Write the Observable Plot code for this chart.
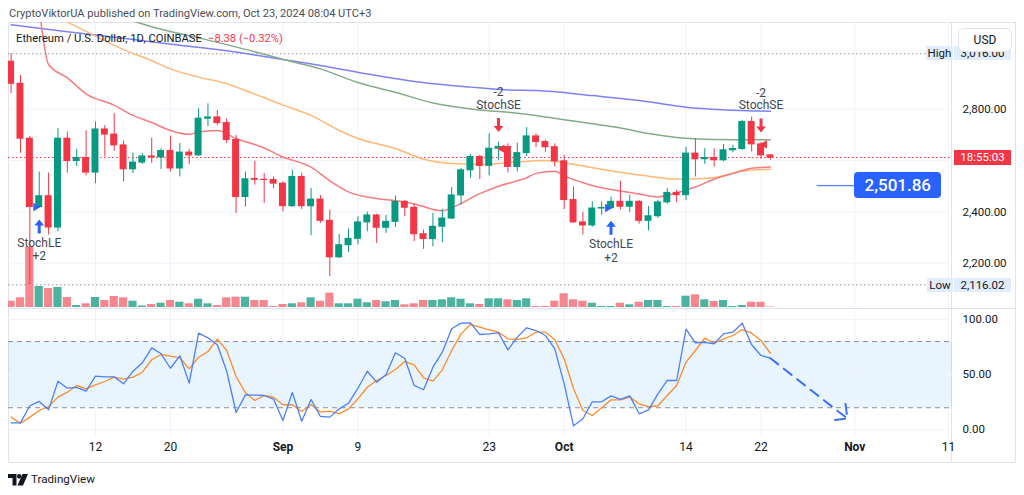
<!DOCTYPE html>
<html>
<head>
<meta charset="utf-8">
<script src="https://cdn.jsdelivr.net/npm/d3@7"></script>
<script src="https://cdn.jsdelivr.net/npm/@observablehq/plot@0.6"></script>
<style>
  html,body{margin:0;padding:0;background:#fff;}
  body{width:1024px;height:495px;position:relative;overflow:hidden;font-family:Roboto,"Liberation Sans",Arial,sans-serif;color:#131722;}
  .abs{position:absolute;}
  .txt{white-space:nowrap;line-height:16px;}
  .lbl{position:absolute;font-size:11.5px;line-height:14px;text-align:center;white-space:nowrap;box-sizing:border-box;}
</style>
</head>
<body>
<div id="hdr" class="abs txt" style="left:9px;top:6px;font-size:13px;color:#4a4d57">CryptoViktorUA published on TradingView.com, Oct 23, 2024 08:04 UTC+3</div>
<div id="frame" class="abs" style="left:8px;top:22px;width:1008px;height:441px;border:1px solid #e0e3eb;box-sizing:border-box"></div>
<div class="abs" style="left:951px;top:22px;width:1px;height:440px;background:#e0e3eb"></div>
<div id="gridLayer" class="abs" style="left:0;top:22px"></div>
<div id="volLayer" class="abs" style="left:0;top:22px"></div>
<div id="priceLayer" class="abs" style="left:0;top:22px"></div>
<div id="stochLayer" class="abs" style="left:0;top:308px"></div>
<div class="abs" style="left:8px;top:308px;width:1007px;height:1px;background:#e0e3eb"></div>
<div id="legendMain" class="abs txt" style="left:16px;top:31px;font-size:12.5px;color:#131722">Ethereum / U.S. Dollar, 1D, COINBASE</div>
<div id="legendChg" class="abs txt" style="left:208px;top:31px;font-size:12.5px;color:#f23645">−8.38 (−0.32%)</div>
<div id="overlays"></div>
<svg class="abs" style="left:8px;top:474px" width="20" height="12" viewBox="0 0 20 12"><path d="M0 0h8.5v11.5h-4v-7.5H0z" fill="#131722"/><circle cx="11.2" cy="2.2" r="2.2" fill="#131722"/><path d="M14.5 0h5.5l-5 11.5h-5.5z" fill="#131722"/></svg>
<div id="foot" class="abs txt" style="left:31px;top:471px;font-size:14px;color:#131722">TradingView</div>
<script>
// ---------------- DATA ----------------
const startDate = "2024-08-03"; // first daily bar, consecutive days after it
const open = [2985,2899,2685,2419,2461,2339,2685,2598,2610,2553, 2721,2701,2659,2566,2592,2616,2612,2637,2569,2631,
  2620,2763,2768,2746,2680,2458,2528,2525,2524,2510, 2422,2536,2422,2448,2365,2223,2270,2295,2359,2386,
  2338,2361,2439,2416,2313,2294,2342,2374,2464,2562, 2614,2579,2646,2653,2575,2629,2694,2672,2652,2597,
  2446,2359,2347,2413,2415,2439,2420,2439,2365,2383, 2437,2474,2465,2627,2605,2610,2601,2640,2645,2750,
  2663,2620];
const high = [3016,2931,2694,2555,2551,2724,2711,2643,2717,2750, 2736,2782,2676,2629,2627,2687,2646,2695,2666,2643,
  2802,2821,2795,2763,2698,2555,2597,2549,2536,2517, 2562,2551,2491,2464,2407,2312,2333,2381,2399,2391,
  2387,2462,2445,2430,2329,2394,2410,2495,2569,2623, 2620,2704,2672,2665,2668,2728,2704,2680,2665,2620,
  2497,2398,2439,2439,2458,2519,2465,2445,2420,2445, 2491,2485,2652,2685,2646,2646,2662,2659,2756,2769,
  2670,2623];
const low = [2861,2628,2116.02,2415,2310,2322,2551,2577,2540,2510, 2614,2636,2517,2549,2585,2589,2565,2555,2536,2584,
  2617,2733,2736,2666,2394,2419,2504,2433,2491,2400, 2418,2409,2307,2355,2148,2218,2242,2271,2322,2277,
  2316,2339,2381,2284,2254,2264,2280,2370,2426,2530, 2526,2540,2601,2551,2555,2616,2650,2633,2575,2409,
  2355,2310,2340,2387,2410,2407,2398,2352,2326,2375, 2430,2435,2445,2536,2585,2575,2595,2630,2640,2633,
  2605,2601];
const close = [2899,2685,2419,2461,2339,2685,2598,2610,2553,2721, 2701,2659,2566,2592,2616,2612,2637,2569,2631,2620,
  2763,2768,2746,2680,2458,2527,2525,2524,2510,2422, 2536,2422,2448,2365,2223,2270,2295,2359,2386,2338,
  2361,2439,2416,2313,2294,2342,2374,2464,2562,2614, 2579,2646,2653,2575,2629,2694,2672,2652,2597,2446,
  2359,2347,2413,2415,2439,2420,2439,2365,2383,2437, 2474,2465,2627,2605,2610,2601,2640,2645,2750,2663,
  2620,2611.62];
const volumeK = [63,97,600,210,190,200,100,20,37,100, 70,110,97,63,15,30,43,70,53,37,
  83,37,20,97,103,103,70,70,10,30, 37,47,97,63,143,37,37,83,47,70,
  57,70,27,37,70,70,77,97,83,37, 30,87,87,77,70,87,10,10,63,137,
  77,63,43,10,10,43,27,53,70,70, 10,10,113,127,77,60,70,10,20,53,
  53,5];
const stochK = [6.3,6.3,21.8,25.7,18.1,44.1,37.7,38.4,35.0,48.6, 48.0,48.0,41.7,53.1,60.7,74.3,68.9,55.8,67.1,42.3,
  87.6,83.4,77.1,53.1,15.7,31.7,31.4,31.1,27.8,8.4, 33.8,7.8,27.5,12.1,11.5,19.0,24.1,37.7,53.1,43.2,
  50.1,69.8,64.6,40.2,36.3,56.8,70.4,91.6,96.7,96.9, 86.4,87.0,87.9,72.5,84.0,92.5,90.0,85.5,73.4,41.7,
  3.6,10.0,25.4,25.4,30.8,27.5,30.8,14.5,18.1,32.6, 44.7,44.7,91.2,78.9,79.2,78.0,87.0,88.5,96.7,77.1,
  67.4,64.9];
const stochD = [11.5,6.0,11.5,17.5,21.1,29.6,34.1,40.2,37.2,40.8, 43.8,47.7,45.9,47.7,52.2,63.5,68.3,66.7,65.3,55.3,
  65.8,71.0,82.2,71.9,48.3,33.5,26.6,31.1,29.6,22.7, 22.7,16.6,22.9,16.0,16.9,14.5,19.0,28.1,38.6,44.7,
  49.2,54.7,61.9,58.9,47.1,44.1,54.4,71.9,87.0,95.5, 93.0,90.7,88.5,82.5,81.9,83.4,88.5,88.5,81.6,64.3,
  37.2,17.5,13.0,19.9,27.2,27.2,29.6,23.6,21.1,21.8, 31.1,40.2,61.3,71.9,83.1,78.5,82.5,85.5,90.9,87.6,
  81.0,69.4];
const maRed = [["2024-08-06",3195],["2024-08-07",2974],["2024-08-09",2922],["2024-08-11",2860],["2024-08-14",2815],
  ["2024-08-16",2776],["2024-08-18",2748],["2024-08-20",2717],["2024-08-22",2702],["2024-08-23",2711],["2024-08-25",2717],
  ["2024-08-27",2686],["2024-08-30",2649],["2024-09-01",2614],["2024-09-04",2574],["2024-09-06",2521],["2024-09-08",2478],
  ["2024-09-11",2452],["2024-09-13",2443],["2024-09-15",2431],["2024-09-18",2404],["2024-09-19",2416],["2024-09-22",2471],
  ["2024-09-24",2500],["2024-09-27",2533],["2024-09-28",2550],["2024-09-30",2558],["2024-10-01",2540],["2024-10-04",2503],
  ["2024-10-06",2487],["2024-10-09",2470],["2024-10-11",2458],["2024-10-12",2465],["2024-10-15",2497],["2024-10-17",2527],
  ["2024-10-19",2550],["2024-10-21",2570],["2024-10-23",2575]];
const maOrange = [["2024-08-08",3156],["2024-08-09",3139],["2024-08-15",3032],["2024-08-18",2989],["2024-08-20",2957],
  ["2024-08-23",2925],["2024-08-26",2899],["2024-08-28",2873],["2024-09-01",2816],["2024-09-04",2776],["2024-09-07",2717],
  ["2024-09-09",2686],["2024-09-13",2647],["2024-09-16",2605],["2024-09-19",2588],["2024-09-22",2585],["2024-09-25",2591],
  ["2024-09-29",2600],["2024-10-01",2591],["2024-10-04",2572],["2024-10-07",2554],["2024-10-10",2539],["2024-10-13",2528],
  ["2024-10-16",2530],["2024-10-18",2541],["2024-10-20",2558],["2024-10-23",2566]];
const maGreen = [["2024-08-16",3144],["2024-08-18",3121],["2024-08-23",3078],["2024-08-29",3024],["2024-09-02",2985],
  ["2024-09-05",2957],["2024-09-09",2904],["2024-09-13",2866],["2024-09-17",2824],["2024-09-22",2797],["2024-09-25",2788],
  ["2024-09-29",2770],["2024-10-02",2754],["2024-10-04",2743],["2024-10-07",2727],["2024-10-10",2705],["2024-10-13",2690],
  ["2024-10-17",2682],["2024-10-20",2681],["2024-10-23",2681]];
const maBlue = [["2024-08-03",3129],["2024-08-09",3102],["2024-08-15",3076],["2024-08-21",3049],["2024-08-26",3028],
  ["2024-08-31",2999],["2024-09-05",2970],["2024-09-10",2937],["2024-09-15",2908],["2024-09-21",2886],["2024-09-25",2875],
  ["2024-09-28",2873],["2024-10-04",2853],["2024-10-09",2834],["2024-10-14",2808],["2024-10-20",2795],["2024-10-23",2792]];
const signals = [
  {date:"2024-08-06", side:"long",  name:"StochLE", qty:"+2"},
  {date:"2024-09-24", side:"short", name:"StochSE", qty:"-2"},
  {date:"2024-10-06", side:"long",  name:"StochLE", qty:"+2"},
  {date:"2024-10-22", side:"short", name:"StochSE", qty:"-2"}
];
const targetLine = [{from:"2024-10-28", to:"2024-11-01", price:2501.86}];
const projection = [{from:"2024-10-23", fromValue:64.9, to:"2024-10-31T05:00:00Z", toValue:10.2}];
const dayTicks = ["2024-08-12","2024-08-20","2024-09-09","2024-09-23","2024-10-14","2024-10-22","2024-11-11"];
const monthTicks = ["2024-09-01","2024-10-01","2024-11-01"];
const priceTicks = [2200, 2400, 2800];
const priceGrid = [2200, 2400, 2600, 2800];
const stochTicks = [0, 50, 100];
const stochBand = [20, 80];

// ---------------- STYLE ----------------
const UP = "#089981", DOWN = "#f23645", GRID = "#f0f3fa", TXT = "#131722";
const VUP = "#4db3a1", VDOWN = "#f7878f";

const parseDay = d3.utcParse("%Y-%m-%d");
const toDate = s => s.length > 10 ? new Date(s) : parseDay(s);
const t0 = parseDay(startDate);
const candles = open.map((o, i) => ({date: d3.utcDay.offset(t0, i), open: o, high: high[i], low: low[i],
  close: close[i], volume: volumeK[i], k: stochK[i], d: stochD[i]}));
const byDay = new Map(candles.map(c => [+c.date, c]));
const sigRows = signals.map(s => ({...s, ...byDay.get(+toDate(s.date))}));
const longs = sigRows.filter(s => s.side === "long"), shorts = sigRows.filter(s => s.side === "short");
const col = d => d.close >= d.open ? UP : DOWN;
const maxHigh = d3.max(high), minLow = d3.min(low), lastClose = close[close.length - 1];
const allTicks = [...dayTicks, ...monthTicks].map(toDate);
const x1 = d => d3.utcHour.offset(d.date, -12), x2 = d => d3.utcHour.offset(d.date, 12);

const xScale = {type:"utc", domain:[new Date("2024-08-01T20:51:40Z"), new Date("2024-11-11T10:15:10Z")], range:[0, 952], axis:null};
const base = {width:1016, marginLeft:8, marginRight:64, marginTop:0, marginBottom:0, x:xScale,
  color:{type:"identity"},
  style:{background:"transparent", fontFamily:"Roboto, 'Liberation Sans', sans-serif", overflow:"visible"}};
const yPrice = {domain:[2200, 2800], range:[240.7, 86.7], axis:null};

const arrowUp = {draw(c){c.moveTo(0,-7);c.lineTo(4.8,-1);c.lineTo(1.5,-1);c.lineTo(1.5,7);c.lineTo(-1.5,7);c.lineTo(-1.5,-1);c.lineTo(-4.8,-1);c.closePath();}};
const arrowDown = {draw(c){c.moveTo(0,7);c.lineTo(4.8,1);c.lineTo(1.5,1);c.lineTo(1.5,-7);c.lineTo(-1.5,-7);c.lineTo(-1.5,1);c.lineTo(-4.8,1);c.closePath();}};

const gridPlot = Plot.plot({...base, height:286, y:yPrice, marks:[
  Plot.ruleY(priceGrid, {stroke:GRID}),
  Plot.ruleX(allTicks, {stroke:GRID}),
  Plot.ruleY([maxHigh, minLow], {stroke:"#9598a1", strokeDasharray:"1.5,2.5"}),
  Plot.ruleY([lastClose], {stroke:DOWN, strokeDasharray:"1.5,2.5"})
]});
document.getElementById("gridLayer").append(gridPlot);

const volPlot = Plot.plot({...base, height:286, y:{domain:[0, 600], range:[285, 225], axis:null}, marks:[
  Plot.rect(candles, {x1, x2, y1:0, y2:"volume", fill:d => d.close >= d.open ? VUP : VDOWN, insetLeft:0.6, insetRight:0.6, clip:true})
]});
document.getElementById("volLayer").append(volPlot);

const line = (data, stroke) => Plot.line(data, {x:d => toDate(d[0]), y:d => d[1], stroke, strokeWidth:1.5, curve:"monotone-x", clip:true});
const pricePlot = Plot.plot({...base, height:286, y:yPrice, marks:[
  line(maBlue, "#7e80f5"),
  line(maGreen, "#86aa88"),
  line(maOrange, "#ffb878"),
  line(maRed, "#f77c80"),
  Plot.ruleY(targetLine, {y:"price", x1:d => toDate(d.from), x2:d => toDate(d.to), stroke:"#2962ff", strokeWidth:1}),
  Plot.ruleX(candles, {x:"date", y1:"low", y2:"high", stroke:col, strokeWidth:1, clip:true}),
  Plot.rect(candles, {x1, x2, y1:"open", y2:"close", fill:col, insetLeft:1.2, insetRight:1.2, insetTop:-0.5, insetBottom:-0.5, clip:true}),
  Plot.dot(longs, {x:"date", y:"open", symbol:"triangle", r:3.1, rotate:90, dx:-3.5, fill:"#2962ff", stroke:"none"}),
  Plot.dot(shorts, {x:"date", y:"open", symbol:"triangle", r:3.1, rotate:-90, dx:3.5, fill:DOWN, stroke:"none"}),
  Plot.dot(longs, {x:"date", y:"low", dy:18.5, symbol:arrowUp, fill:"#2962ff", stroke:"none"}),
  Plot.dot(shorts, {x:"date", y:"high", dy:-17, symbol:arrowDown, fill:DOWN, stroke:"none"}),
  Plot.text(longs, {x:"date", y:"low", dy:35, text:"name", fontSize:12, fill:"#434651"}),
  Plot.text(longs, {x:"date", y:"low", dy:48.5, text:"qty", fontSize:12, fill:"#434651"}),
  Plot.text(shorts, {x:"date", y:"high", dy:-37, text:"name", fontSize:12, fill:"#434651"}),
  Plot.text(shorts, {x:"date", y:"high", dy:-49.5, text:"qty", fontSize:12, fill:"#434651"}),
  Plot.axisY(priceTicks, {anchor:"right", tickSize:0, tickPadding:10, tickFormat:d3.format(",.2f"), fontSize:11.5, color:TXT, label:null})
]});
document.getElementById("priceLayer").append(pricePlot);

const stochRows = candles;
const stochPlot = Plot.plot({...base, height:154, marginBottom:25, y:{domain:[0, 100], range:[121.3, 11], axis:null}, marks:[
  Plot.rect([stochBand], {y1:d => d[0], y2:d => d[1], fill:"#2196f3", fillOpacity:0.1}),
  Plot.ruleY(stochTicks, {stroke:GRID}),
  Plot.ruleX(allTicks, {stroke:GRID}),
  Plot.ruleY(stochBand, {stroke:"#8a8d96", strokeDasharray:"5,4"}),
  Plot.line(stochRows, {x:"date", y:"d", stroke:"#ff8a2b", strokeWidth:1.3, clip:true}),
  Plot.line(stochRows, {x:"date", y:"k", stroke:"#4c80f6", strokeWidth:1.3, clip:true}),
  Plot.arrow(projection, {x1:d => toDate(d.from), y1:"fromValue", x2:d => toDate(d.to), y2:"toValue",
    stroke:"#3d72f5", strokeWidth:2, strokeDasharray:"10,7", headAngle:90, headLength:11}),
  Plot.axisY(stochTicks, {anchor:"right", tickSize:0, tickPadding:10, tickFormat:d3.format(".2f"), fontSize:11.5, color:TXT, label:null}),
  Plot.text(dayTicks, {x:toDate, text:d => String(+d.slice(8)), frameAnchor:"bottom", dy:13, fontSize:12, fill:TXT}),
  Plot.text(monthTicks, {x:toDate, text:d => d3.utcFormat("%b")(toDate(d)), frameAnchor:"bottom", dy:13, fontSize:12, fontWeight:"bold", fill:TXT})
]});
document.getElementById("stochLayer").append(stochPlot);

// ---------------- overlays positioned through the plot's scales ----------------
const py = v => pricePlot.scale("y").apply(v) + 22;
const px = d => pricePlot.scale("x").apply(d);
const ov = document.getElementById("overlays");
function box(left, top, w, h, bg, fg, text, extra = "") {
  const el = document.createElement("div");
  el.className = "lbl";
  el.style.cssText += `left:${left}px;top:${top}px;width:${w}px;height:${h}px;line-height:${h}px;background:${bg};color:${fg};${extra}`;
  el.textContent = text;
  ov.append(el);
  return el;
}
const fmt = d3.format(",.2f");
box(926, py(maxHigh) - 7, 27, 14, "#e1ecfc", TXT, "High");
box(954, py(maxHigh) - 7, 57, 14, "#e1ecfc", TXT, fmt(maxHigh));
box(958, 28, 54, 24, "#fff", TXT, "USD", "border:1px solid #e0e3eb;border-radius:6px;font-size:12px;line-height:22px;");
box(927, py(minLow) - 6, 26, 14, "#e1ecfc", TXT, "Low");
box(954, py(minLow) - 6, 57, 14, "#e1ecfc", TXT, fmt(minLow));
box(954, py(lastClose) - 7.5, 57, 15, DOWN, "#fff", "18:55:03");
const t = targetLine[0];
box(px(toDate(t.to)), py(t.price) - 13, 87, 26, "#2962ff", "#fff", fmt(t.price), "border-radius:4px;font-size:17px;font-weight:500;");

function fit(id, target) {
  const el = document.getElementById(id);
  const w = el.getBoundingClientRect().width;
  const fs = parseFloat(getComputedStyle(el).fontSize);
  el.style.fontSize = (fs * target / w) + "px";
}
fit("hdr", 363); fit("legendMain", 186); fit("legendChg", 75); fit("foot", 64);
</script>
</body>
</html>
